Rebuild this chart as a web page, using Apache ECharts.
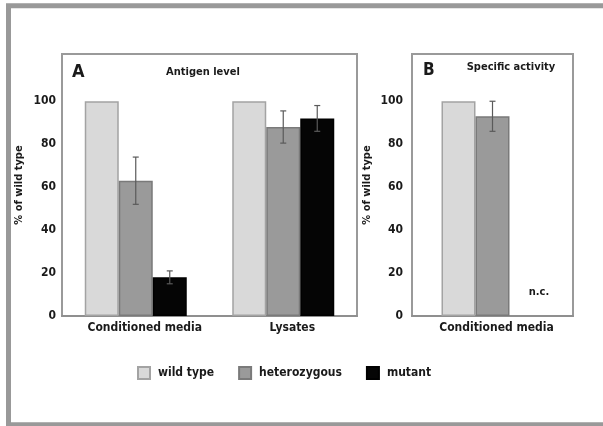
<!DOCTYPE html>
<html><head><meta charset="utf-8">
<script src="https://cdn.jsdelivr.net/npm/echarts@6/dist/echarts.min.js"></script>
<style>html,body{margin:0;padding:0;background:#fff}#c{width:603px;height:426px}</style>
</head><body><div id="c"></div>
<script>
// ---- data ----
const seriesNames = ['wild type', 'heterozygous', 'mutant'];
const categoriesA = ['Conditioned media', 'Lysates'];
const wildA = [100, 100];
const hetA = [63, 88];
const mutA = [18, 92];
const hetErrA = [11, 7.5];
const mutErrA = [3, 6];
const categoriesB = ['Conditioned media'];
const wildB = [100];
const hetB = [93];
const mutB = [null];
const hetErrB = [7];
const yTicks = [0, 20, 40, 60, 80, 100];

// ---- style ----
const FONT = '"DejaVu Sans Condensed", "DejaVu Sans", sans-serif';
const FW = 'bold';
const FS = 11;
const colors = ['#d9d9d9', '#9a9a9a', '#050505'];
const borders = ['#a3a3a3', '#7a7a7a', '#000'];
const BW = 34;
const TXT = '#1a1a1a';

function barSeries(name, idx, data, axisIdx) {
  return {
    type: 'bar', name, data, xAxisIndex: axisIdx, yAxisIndex: axisIdx,
    barWidth: BW, barGap: '0%',
    itemStyle: { color: colors[idx], borderColor: borders[idx], borderWidth: 1.5 },
    emphasis: { disabled: true }, z: 2
  };
}
function errSeries(vals, errs, idx, axisIdx) {
  const data = vals.map((v, i) => (errs[i] == null || v == null) ? null : [i, v, errs[i]]).filter(d => d);
  return {
    type: 'custom', xAxisIndex: axisIdx, yAxisIndex: axisIdx, z: 5, silent: true,
    data,
    renderItem: function (params, api) {
      const c = api.value(0), v = api.value(1), e = api.value(2);
      const off = (idx - 1) * BW;
      const top = api.coord([c, v + e]);
      const bot = api.coord([c, v - e]);
      const x = top[0] + off;
      const cap = 3;
      const st = { stroke: '#5a5a5a', lineWidth: 1.2 };
      return { type: 'group', children: [
        { type: 'line', shape: { x1: x, y1: top[1], x2: x, y2: bot[1] }, style: st },
        { type: 'line', shape: { x1: x - cap, y1: top[1], x2: x + cap, y2: top[1] }, style: st },
        { type: 'line', shape: { x1: x - cap, y1: bot[1], x2: x + cap, y2: bot[1] }, style: st }
      ]};
    }
  };
}
function yAx(gi, gap) {
  return {
    type: 'value', gridIndex: gi, min: 0, max: 122, interval: 20,
    name: '% of wild type', nameLocation: 'middle', nameGap: gap, nameRotate: 90,
    nameTextStyle: { fontFamily: FONT, fontWeight: FW, fontSize: FS, color: TXT },
    axisLine: { show: false }, axisTick: { show: false }, splitLine: { show: false },
    axisLabel: { fontFamily: FONT, fontWeight: FW, fontSize: 12, color: TXT, margin: gi === 0 ? 6 : 9,
      formatter: v => yTicks.indexOf(v) >= 0 ? String(v) : '' }
  };
}
function xAx(gi, cats, pad) {
  return {
    type: 'category', gridIndex: gi, data: cats,
    axisLine: { show: true, lineStyle: { color: '#8f8f8f', width: 2 } },
    axisTick: { show: false },
    axisLabel: { interval: 0, fontFamily: FONT, fontWeight: FW, fontSize: 12, color: TXT, margin: 6, padding: pad }
  };
}

const chart = echarts.init(document.getElementById('c'), null, { renderer: 'canvas' });
chart.setOption({
  animation: false,
  backgroundColor: '#fff',
  grid: [
    { left: 62, top: 54, width: 295, height: 262, show: true, borderColor: '#9a9a9a', borderWidth: 2 },
    { left: 412, top: 54, width: 161, height: 262, show: true, borderColor: '#9a9a9a', borderWidth: 2 }
  ],
  xAxis: [xAx(0, categoriesA, [0, 0, 0, 18]), xAx(1, categoriesB, [0, 0, 0, 8])],
  yAxis: [yAx(0, 37), yAx(1, 39)],
  legend: {
    data: seriesNames, left: 137, top: 366, padding: 0, itemWidth: 12, itemHeight: 12, itemGap: 24,
    icon: 'rect', selectedMode: false,
    textStyle: { fontFamily: FONT, fontWeight: FW, fontSize: 12, color: TXT, padding: [0, 0, 0, 3] }
  },
  title: [
    { text: 'A', left: 67, top: 58, textStyle: { fontFamily: FONT, fontWeight: FW, fontSize: 18, color: TXT } },
    { text: 'Antigen level', left: 198, top: 62, textAlign: 'center', textStyle: { fontFamily: FONT, fontWeight: FW, fontSize: FS, color: TXT } },
    { text: 'B', left: 418, top: 57, textStyle: { fontFamily: FONT, fontWeight: FW, fontSize: 17, color: TXT } },
    { text: 'Specific activity', left: 506, top: 57, textAlign: 'center', textStyle: { fontFamily: FONT, fontWeight: FW, fontSize: FS, color: TXT } }
  ],
  graphic: [
    { type: 'rect', shape: { x: 8.5, y: 5.8, width: 700, height: 419 }, style: { fill: 'none', stroke: '#999', lineWidth: 5 }, silent: true },
    { type: 'text', x: 539, y: 292, style: { text: 'n.c.', fontFamily: FONT, fontWeight: FW, fontSize: FS, fill: TXT, align: 'center', verticalAlign: 'middle' } }
  ],
  series: [
    barSeries(seriesNames[0], 0, wildA, 0),
    barSeries(seriesNames[1], 1, hetA, 0),
    barSeries(seriesNames[2], 2, mutA, 0),
    errSeries(hetA, hetErrA, 1, 0),
    errSeries(mutA, mutErrA, 2, 0),
    barSeries(seriesNames[0], 0, wildB, 1),
    barSeries(seriesNames[1], 1, hetB, 1),
    barSeries(seriesNames[2], 2, mutB, 1),
    errSeries(hetB, hetErrB, 1, 1)
  ]
});
</script></body></html>
